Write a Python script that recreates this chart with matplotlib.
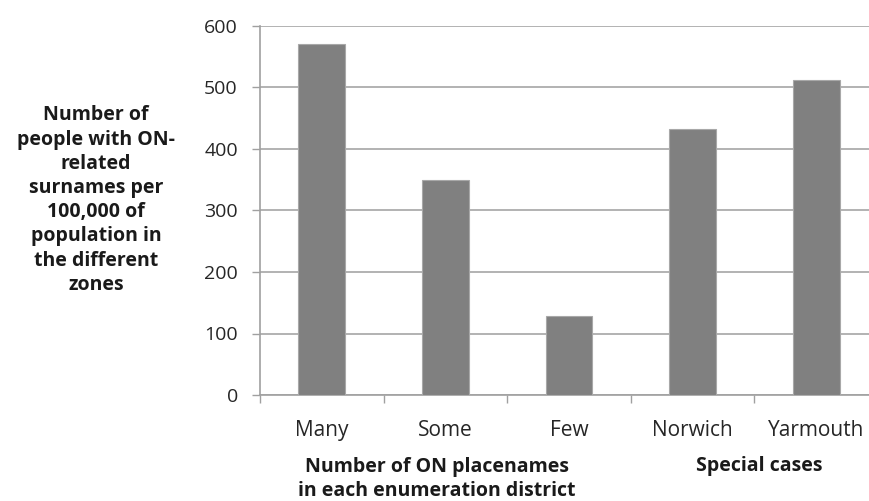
import numpy as np
import matplotlib
matplotlib.use("Agg")
import matplotlib.pyplot as plt

# data
categories = ["Many", "Some", "Few", "Norwich", "Yarmouth"]
values = [571, 350, 128, 433, 513]
y_ticks = [0, 100, 200, 300, 400, 500, 600]

ylabel_text = ("Number of\npeople with ON-\nrelated\nsurnames per\n100,000 of\n"
               "population in\nthe different\nzones")
group_labels = ["Number of ON placenames\nin each enumeration district",
                "Special cases"]

plt.rcParams["font.family"] = ["Open Sans", "DejaVu Sans"]

fig = plt.figure(figsize=(8.69, 5.01), dpi=100)
# the right edge of the plot runs past the picture, as in the reference
ax = fig.add_axes([260 / 869, 1 - 395 / 501, 618 / 869, 369 / 501])

x = np.arange(len(categories))
ax.bar(x, values, width=0.38, color="#808080", edgecolor="#a8a8a8",
       linewidth=0.8, zorder=3)

ax.set_xlim(-0.5, len(categories) - 0.5)
ax.set_ylim(0, 600)
ax.set_yticks(y_ticks)
ax.yaxis.grid(True, color="#a6a6a6", linewidth=1.2, zorder=0)

ax.set_xticks(np.arange(-0.5, len(categories) + 0.5, 1))
ax.set_xticklabels([])
ax.set_xticks(x, minor=True)
ax.set_xticklabels(categories, minor=True)
ax.tick_params(axis="x", which="major", length=6, color="#a0a0a0", width=1)
ax.tick_params(axis="x", which="minor", length=0, pad=18, labelsize=15,
               labelcolor="#262626")
ax.tick_params(axis="y", length=6, color="#a0a0a0", width=1, pad=10,
               labelsize=14, labelcolor="#262626")

for s in ["top", "right"]:
    ax.spines[s].set_visible(False)
for s in ["left", "bottom"]:
    ax.spines[s].set_color("#a0a0a0")
    ax.spines[s].set_linewidth(1.2)

# y-axis title, as a bold block on the left
fig.text(96 / 869, 1 - 200 / 501, ylabel_text, ha="center", va="center",
         fontsize=14, fontweight="bold", color="#1a1a1a", linespacing=1.28)

# group labels under the categories
fig.text(437 / 869, 1 - 479 / 501, group_labels[0], ha="center", va="center",
         fontsize=14, fontweight="bold", color="#1a1a1a", linespacing=1.28)
fig.text(759 / 869, 1 - 466 / 501, group_labels[1], ha="center", va="center",
         fontsize=14, fontweight="bold", color="#1a1a1a")

fig.savefig("out.png", dpi=100)
